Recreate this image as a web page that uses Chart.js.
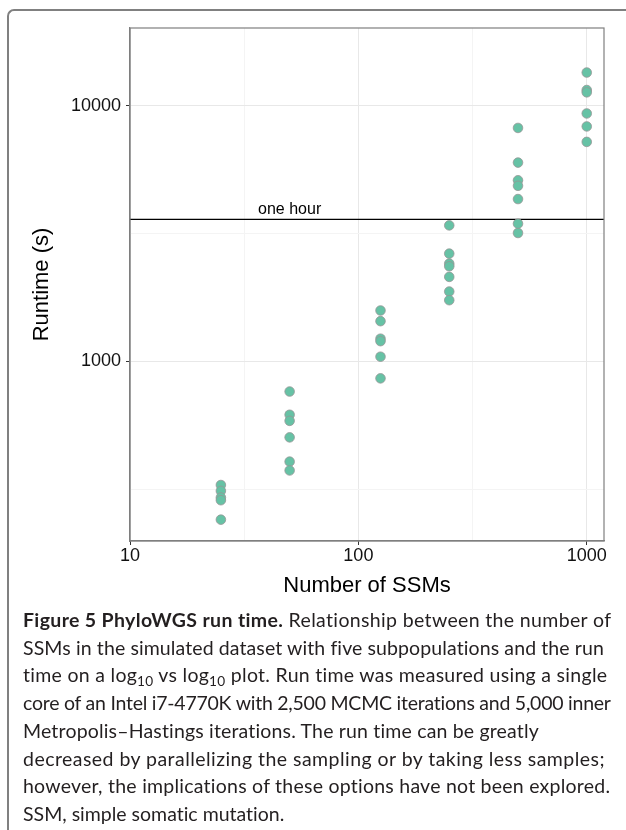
<!DOCTYPE html>
<html lang="en">
<head>
    <meta charset="UTF-8">
    <title>PhyloWGS run time</title>
    <style>
        *{
            margin:0;
            padding:0;
        }
        body{
            width: 626px;
            height: 830px;
            background: #ffffff;
            position: relative;
            overflow: hidden;
        }
        .frame{
            position: absolute;
            left: 7px;
            top: 9px;
            width: 700px;
            height: 900px;
            border-top: 2px solid #808080;
            border-left: 2px solid #808080;
            border-top-left-radius: 7px;
        }
        #runChart{
            position: absolute;
            left: 0;
            top: 0;
        }
        .caption{
            position: absolute;
            left: 23px;
            top: 606px;
            font-family: Lato, "Open Sans", sans-serif;
            font-size: 19.5px;
            line-height: 27.7px;
            color: #231f20;
            white-space: nowrap;
        }
        .caption span{
            display: block;
            width: max-content;
        }
        .caption sub{
            font-size: 0.7em;
            vertical-align: -0.3em;
            line-height: 0;
        }
    </style>
</head>
<body>
    <div class="frame"></div>
    <canvas id="runChart" width="626" height="610"></canvas>
    <div class="caption">
        <span data-w="589"><b>Figure 5 PhyloWGS run time.</b> Relationship between the number of</span>
        <span data-w="581">SSMs in the simulated dataset with five subpopulations and the run</span>
        <span data-w="585">time on a log<sub>10</sub> vs log<sub>10</sub> plot. Run time was measured using a single</span>
        <span data-w="588">core of an Intel i7-4770K with 2,500 MCMC iterations and 5,000 inner</span>
        <span data-w="517">Metropolis–Hastings iterations. The run time can be greatly</span>
        <span data-w="582">decreased by parallelizing the sampling or by taking less samples;</span>
        <span data-w="588">however, the implications of these options have not been explored.</span>
        <span data-w="262">SSM, simple somatic mutation.</span>
    </div>
    <script src="https://cdn.jsdelivr.net/npm/chart.js@4.4.0/dist/chart.umd.min.js"></script>
    <script>
        // runtimes (s), one array per SSM count
        const ssmCounts = [25, 50, 125, 250, 500, 1000];
        const runtime25 = [328, 311, 293, 286, 240];
        const runtime50 = [762, 618, 585, 504, 405, 374];
        const runtime125 = [1582, 1437, 1227, 1200, 1043, 858];
        const runtime250 = [3408, 2642, 2414, 2357, 2142, 1877, 1736];
        const runtime500 = [8204, 6003, 5117, 4870, 4321, 3460, 3182];
        const runtime1000 = [13520, 11548, 11310, 9348, 8316, 7234];
        const runtimes = [runtime25, runtime50, runtime125, runtime250, runtime500, runtime1000];

        const xMajor = [10, 100, 1000];
        const xMinor = [31.62, 316.2];
        const yMajor = [1000, 10000];
        const yMinor = [316.2, 3162];
        const xMin = 10, xMax = 1190;
        const yMin = 198, yMax = 20200;

        const oneHour = 3600;
        const oneHourLabel = 'one hour';
        const oneHourLabelX = 50;

        // stretch each caption line to the width it has in the figure
        document.querySelectorAll('.caption span').forEach(function(el){
            const target = parseFloat(el.dataset.w);
            const chars = el.textContent.length;
            const w = el.getBoundingClientRect().width;
            el.style.letterSpacing = ((target - w) / chars).toFixed(3) + 'px';
        });

        let points = [];
        ssmCounts.forEach(function(n, i){
            runtimes[i].forEach(function(t){
                points.push({x: n, y: t});
            });
        });

        function setTicks(major, minor){
            return function(scale){
                scale.ticks = major.concat(minor).sort(function(a, b){ return a - b; })
                    .map(function(v){ return {value: v, major: major.indexOf(v) >= 0}; });
            };
        }

        const panelBorder = {
            id: 'panelBorder',
            afterDraw(chart){
                const a = chart.chartArea;
                const c = chart.ctx;
                c.save();
                c.strokeStyle = '#7f7f7f';
                c.lineWidth = 1.2;
                c.strokeRect(a.left, a.top, a.right - a.left, a.bottom - a.top);
                // annotation text above the one hour line
                c.fillStyle = '#000';
                c.font = '16px "Liberation Sans", Arial, sans-serif';
                c.textAlign = 'center';
                c.textBaseline = 'alphabetic';
                c.fillText(oneHourLabel, chart.scales.x.getPixelForValue(oneHourLabelX),
                    chart.scales.y.getPixelForValue(oneHour) - 5);
                c.restore();
            }
        };

        const gridColor = function(ctx){
            return ctx.tick && ctx.tick.major ? '#e8e8e8' : '#f4f4f4';
        };
        const tickColor = function(ctx){
            return ctx.tick && ctx.tick.major ? '#333333' : 'rgba(0,0,0,0)';
        };
        const tickFont = {family: '"Liberation Sans", Arial, sans-serif', size: 18};
        const titleFont = {family: '"Liberation Sans", Arial, sans-serif', size: 22};

        const ctx = document.getElementById('runChart').getContext('2d');
        let runChart = new Chart(ctx, {
            data: {
                datasets: [{
                    type: 'line',
                    label: 'one hour',
                    data: [{x: xMin, y: oneHour}, {x: xMax, y: oneHour}],
                    borderColor: '#000000',
                    borderWidth: 1.3,
                    pointRadius: 0,
                    order: 2
                },{
                    type: 'scatter',
                    label: 'runtime',
                    data: points,
                    backgroundColor: '#66c2a5',
                    borderColor: 'rgba(150,150,150,0.8)',
                    borderWidth: 1,
                    pointRadius: 4.8,
                    order: 1
                }]
            },
            options: {
                responsive: false,
                devicePixelRatio: 1,
                animation: false,
                layout: {
                    padding: {top: 28, right: 22, left: 0, bottom: 0}
                },
                plugins: {
                    legend: {display: false},
                    tooltip: {enabled: false}
                },
                scales: {
                    x: {
                        type: 'logarithmic',
                        min: xMin,
                        max: xMax,
                        afterBuildTicks: setTicks(xMajor, xMinor),
                        afterFit: function(s){ s.height = 69; },
                        ticks: {
                            autoSkip: false,
                            maxRotation: 0,
                            padding: 0,
                            color: '#111111',
                            font: tickFont,
                            callback: function(v){ return xMajor.indexOf(v) >= 0 ? String(v) : ''; }
                        },
                        grid: {
                            color: gridColor,
                            tickColor: tickColor,
                            tickLength: 4,
                            lineWidth: 1
                        },
                        border: {display: true, color: '#7f7f7f', width: 1.2},
                        title: {
                            display: true,
                            text: 'Number of SSMs',
                            color: '#000000',
                            font: titleFont,
                            padding: {top: 0, bottom: 11}
                        }
                    },
                    y: {
                        type: 'logarithmic',
                        min: yMin,
                        max: yMax,
                        afterBuildTicks: setTicks(yMajor, yMinor),
                        afterFit: function(s){ s.width = 130; },
                        ticks: {
                            autoSkip: false,
                            padding: 5,
                            color: '#111111',
                            font: tickFont,
                            callback: function(v){ return yMajor.indexOf(v) >= 0 ? String(v) : ''; }
                        },
                        grid: {
                            color: gridColor,
                            tickColor: tickColor,
                            tickLength: 4,
                            lineWidth: 1
                        },
                        border: {display: true, color: '#7f7f7f', width: 1.2},
                        title: {
                            display: true,
                            text: 'Runtime (s)',
                            color: '#000000',
                            font: titleFont,
                            padding: {top: 29, bottom: 0}
                        }
                    }
                }
            },
            plugins: [panelBorder]
        });
    </script>
</body>
</html>
